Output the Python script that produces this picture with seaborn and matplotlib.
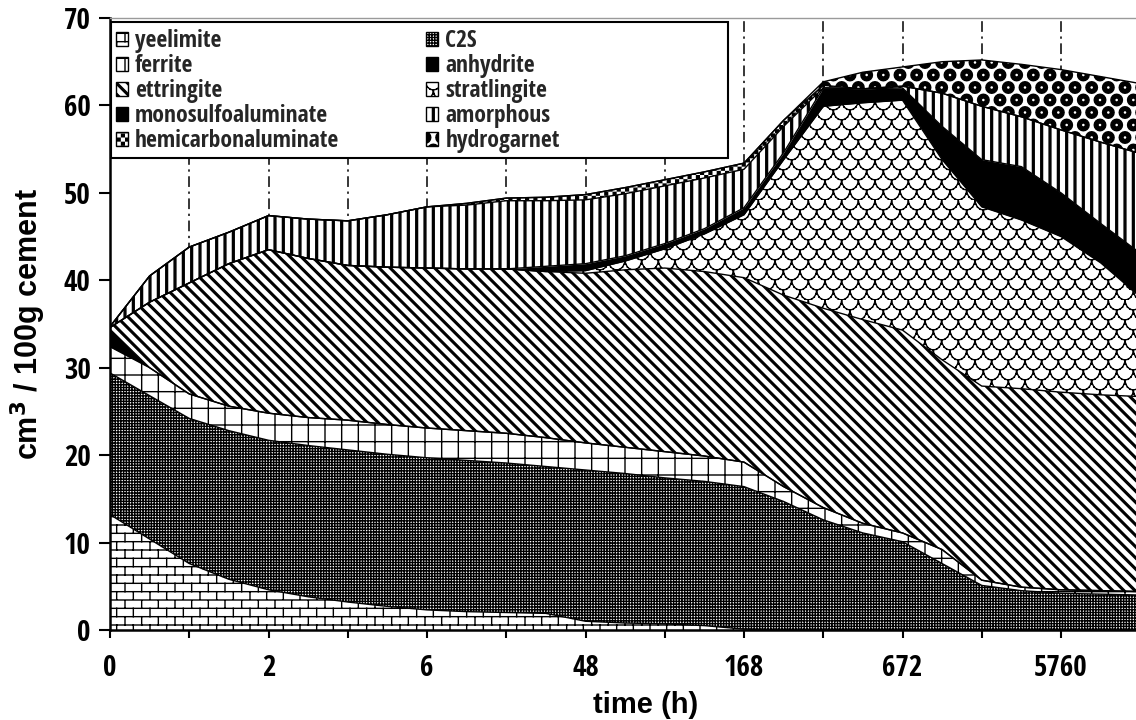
import warnings
warnings.filterwarnings('ignore')
import logging
logging.getLogger('matplotlib.font_manager').setLevel(logging.ERROR)

import numpy as np
import pandas as pd
import matplotlib
matplotlib.use('Agg')
import matplotlib.pyplot as plt
import matplotlib.hatch as mhatch
from matplotlib.path import Path
from matplotlib.patches import Patch, Rectangle
import seaborn as sns

# ---------------- data ----------------
time_labels = ['0', '', '2', '', '6', '', '48', '', '168', '', '672', '', '5760']
sample_pos = [0.0, 0.5, 1.0, 1.5, 2.0, 2.5, 3.0, 3.5, 4.0, 4.5, 5.0, 5.5, 6.0, 6.5,
              7.0, 7.5, 8.0, 8.5, 9.0, 9.5, 10.0, 10.5, 11.0, 11.5, 12.0, 12.5, 13.0]

yeelimite = [13.2, 10.4, 7.6, 5.8, 4.6, 3.8, 3.2, 2.7, 2.3, 2.1, 2.0, 1.9, 1.0, 0.8,
             0.7, 0.5, 0.1, 0, 0, 0, 0, 0, 0, 0, 0, 0, 0]
c2s = [16.2, 16.4, 16.6, 17.0, 17.1, 17.3, 17.4, 17.4, 17.4, 17.3, 17.1, 16.8, 17.3, 17.1,
       16.7, 16.5, 16.3, 14.7, 12.6, 11.1, 10.1, 7.6, 5.1, 4.5, 4.2, 4.1, 4.0]
ferrite = [3.0, 3.2, 2.8, 2.8, 3.1, 3.2, 3.4, 3.4, 3.4, 3.4, 3.4, 3.3, 3.1, 3.0,
           3.0, 2.9, 2.8, 1.7, 1.4, 1.1, 1.0, 1.6, 0.6, 0.4, 0.4, 0.4, 0.4]
anhydrite = [2.0, 0, 0, 0, 0, 0, 0, 0, 0, 0, 0, 0, 0, 0,
             0, 0, 0, 0, 0, 0, 0, 0, 0, 0, 0, 0, 0]
ettringite = [0.2, 7.5, 12.7, 16.3, 18.7, 18.2, 17.7, 18.0, 18.3, 18.5, 18.8, 19.0, 19.4, 20.3,
              21.0, 21.1, 21.1, 21.9, 22.8, 23.3, 23.2, 21.7, 22.2, 22.7, 22.6, 22.4, 22.3]
stratlingite = [0, 0, 0, 0, 0, 0, 0, 0, 0, 0, 0, 0, 0.3, 1.0,
                2.2, 4.3, 7.2, 15.5, 23.1, 24.8, 26.3, 22.9, 20.5, 19.3, 17.8, 15.1, 11.4]
monosulfoaluminate = [0, 0, 0, 0, 0, 0, 0, 0, 0, 0, 0, 0.6, 0.8, 0.6,
                      0.6, 0.6, 0.8, 0.8, 2.1, 1.6, 1.4, 3.8, 5.4, 6.1, 5.0, 4.5, 5.0]
amorphous = [0.1, 3.0, 4.1, 3.6, 3.9, 4.5, 5.1, 6.0, 7.0, 7.3, 7.8, 7.5, 7.3, 7.1,
             6.6, 5.8, 4.4, 3.0, 0, 0, 0.2, 3.8, 6.1, 5.7, 7.2, 9.3, 11.4]
hemicarbonaluminate = [0, 0, 0, 0, 0, 0, 0, 0, 0, 0.2, 0.3, 0.4, 0.6, 0.7,
                       0.7, 0.7, 0.7, 0.7, 0.3, 0, 0, 0, 0, 0, 0, 0, 0]
hydrogarnet = [0, 0, 0, 0, 0, 0, 0, 0, 0, 0, 0, 0, 0, 0,
               0, 0, 0, 0, 0.4, 1.9, 2.2, 3.6, 5.3, 6.0, 6.9, 7.5, 8.0]

phase_names = ['yeelimite', 'C2S', 'ferrite', 'anhydrite', 'ettringite', 'stratlingite',
               'monosulfoaluminate', 'amorphous', 'hemicarbonaluminate', 'hydrogarnet']
phase_values = [yeelimite, c2s, ferrite, anhydrite, ettringite, stratlingite,
                monosulfoaluminate, amorphous, hemicarbonaluminate, hydrogarnet]


# ---------------- custom hatch patterns ----------------
def _segs(segs):
    v = np.asarray(segs, float).reshape(-1, 2)
    c = np.tile(np.array([Path.MOVETO, Path.LINETO], dtype=Path.code_type), len(segs))
    return v, c


def _polys(polys):
    vs, cs = [], []
    for p in polys:
        p = np.asarray(p, float)
        vs.append(np.vstack([p, p[:1]]))
        cs.append(np.array([Path.MOVETO] + [Path.LINETO] * (len(p) - 1) + [Path.CLOSEPOLY],
                           dtype=Path.code_type))
    return np.vstack(vs), np.concatenate(cs)


class _Custom(mhatch.HatchPatternBase):
    key = None

    def __init__(self, hatch, density):
        self.num_vertices = 0
        if hatch and self.key in hatch:
            self._v, self._c = self.build()
            self.num_vertices = len(self._v)

    def set_vertices_and_codes(self, vertices, codes):
        vertices[:] = self._v
        codes[:] = self._c


class Bricks(_Custom):
    key = 'b'

    def build(self):
        n, m = 12, 6
        segs = [((-0.02, i / n), (1.02, i / n)) for i in range(n + 1)]
        for i in range(n):
            off = 0.5 / m if i % 2 else 0.0
            for j in range(-1, m + 2):
                x = j / m + off
                if -0.02 <= x <= 1.02:
                    segs.append(((x, i / n), (x, (i + 1) / n)))
        return _segs(segs)


class Scales(_Custom):
    key = 's'

    def build(self):
        n, m = 10, 6
        th = np.linspace(0, np.pi, 9)
        segs = []
        for i in range(1, n + 1):
            off = 0.5 / m if i % 2 else 0.0
            cy = i / n
            for j in range(-1, m + 2):
                cx = j / m + off
                xs = cx + (0.5 / m) * np.cos(th)
                ys = cy - (1.0 / n) * np.sin(th)
                for k in range(len(th) - 1):
                    segs.append(((xs[k], ys[k]), (xs[k + 1], ys[k + 1])))
        return _segs(segs)


class Diagonals(_Custom):
    key = 'd'

    def build(self):
        n, h = 9, 0.012
        polys = []
        for k in range(-2, 2 * n + 3):
            c = k / n
            t0, t1 = -0.5, 1.5
            polys.append([(t0, c - t0 - h), (t1, c - t1 - h), (t1, c - t1 + h), (t0, c - t0 + h)])
        return _polys(polys)


class VStripes(_Custom):
    key = 'v'

    def build(self):
        n, h = 12, 0.009
        polys = []
        for k in range(0, n + 1):
            x = k / n
            polys.append([(x - h, -0.1), (x + h, -0.1), (x + h, 1.1), (x - h, 1.1)])
        return _polys(polys)


class Checker(_Custom):
    key = 'k'

    def build(self):
        n = 24
        s = 1.0 / n
        e = 0.007
        polys = []
        for i in range(n):
            for j in range(n):
                if (i + j) % 2 == 0:
                    x0, y0 = j * s + e, i * s + e
                    x1, y1 = (j + 1) * s - e, (i + 1) * s - e
                    polys.append([(x0, y0), (x1, y0), (x1, y1), (x0, y1)])
        return _polys(polys)


class Rings(_Custom):
    key = 'c'

    def build(self):
        n, m = 8, 6
        ro, ri = 0.058, 0.02
        th = np.linspace(0, 2 * np.pi, 17)[:-1]
        vs, cs = [], []
        for i in range(n + 1):
            off = 0.5 / m if i % 2 else 0.0
            cy = i / n
            for j in range(-1, m + 2):
                cx = j / m + off
                outer = np.column_stack([cx + ro * np.cos(th), cy + ro * np.sin(th)])
                inner = np.column_stack([cx + ri * np.cos(th[::-1]), cy + ri * np.sin(th[::-1])])
                for ring in (outer, inner):
                    vs.append(np.vstack([ring, ring[:1]]))
                    cs.append(np.array([Path.MOVETO] + [Path.LINETO] * (len(ring) - 1)
                                       + [Path.CLOSEPOLY], dtype=Path.code_type))
        return np.vstack(vs), np.concatenate(cs)


for cls in (Bricks, Scales, Diagonals, VStripes, Checker, Rings):
    mhatch._hatch_types.append(cls)

# style per phase: (facecolor, hatch)
phase_style = {
    'yeelimite': ('white', 'b'),
    'C2S': ('white', '++++++'),
    'ferrite': ('white', '+'),
    'anhydrite': ('black', None),
    'ettringite': ('white', 'd'),
    'stratlingite': ('white', 's'),
    'monosulfoaluminate': ('black', None),
    'amorphous': ('white', 'v'),
    'hemicarbonaluminate': ('white', 'k'),
    'hydrogarnet': ('white', 'c'),
}

# ---------------- plot ----------------
sns.set_theme(style='ticks')
plt.rcParams['hatch.linewidth'] = 1.0
narrow = ['Liberation Sans Narrow', 'Noto Sans Condensed', 'Open Sans Condensed',
          'Liberation Sans', 'DejaVu Sans']
plt.rcParams['font.family'] = ['Liberation Sans', 'DejaVu Sans']

W, H = 1136, 720
fig = plt.figure(figsize=(W / 100, H / 100), dpi=100)
x0_px, x_step = 110, 79.25
ax = fig.add_axes([x0_px / W, 90 / H, (W - x0_px) / W, 612 / H])

x = np.asarray(sample_pos, float)
layers = np.vstack([np.asarray(v, float) for v in phase_values])
tops = np.cumsum(layers, axis=0)
bottoms = np.vstack([np.zeros_like(x), tops[:-1]])

for i in range(1, 13):
    ax.axvline(i, color='black', lw=1.1, ls=(0, (7, 3, 1.5, 3)), zorder=0.5)

for name, lo, hi in zip(phase_names, bottoms, tops):
    fc, hatch = phase_style[name]
    ax.fill_between(x, lo, hi, facecolor=fc, edgecolor='black', hatch=hatch,
                    linewidth=0, zorder=2)

records = []
for name, top in zip(phase_names, tops):
    for xv, yv in zip(x, top):
        records.append((name, xv, yv))
df = pd.DataFrame(records, columns=['phase', 'pos', 'top'])
sns.lineplot(data=df, x='pos', y='top', units='phase', estimator=None, sort=False,
             color='black', linewidth=1.0, legend=False, ax=ax, zorder=3)

ax.set_xlim(0, (W - x0_px) / x_step)
ax.set_ylim(0, 70)
ax.set_xticks(range(len(time_labels)))
ax.set_xticklabels(time_labels)
ax.set_yticks(range(0, 71, 10))
for lab in ax.get_xticklabels() + ax.get_yticklabels():
    lab.set_fontfamily(narrow)
    lab.set_fontstretch('condensed')
    lab.set_fontweight('bold')
    lab.set_fontsize(21)
    lab.set_color('black')
ax.tick_params(axis='x', direction='out', length=6, width=1.5, pad=11, color='black')
ax.tick_params(axis='y', direction='out', length=8, width=1.5, pad=6, color='black')

ax.set_xlabel('time (h)', fontsize=21, fontweight='bold', color='black')
ax.xaxis.set_label_coords((646 - x0_px) / (W - x0_px), -0.100)
ax.set_ylabel(r'cm$^{\mathbf{3}}$ / 100g cement', fontsize=22, fontweight='bold', color='black')
ax.yaxis.set_label_coords(-0.060, 0.5)

for side in ('left', 'bottom'):
    ax.spines[side].set_color('black')
    ax.spines[side].set_linewidth(1.8)
ax.spines['top'].set_color('#9a9a9a')
ax.spines['top'].set_linewidth(1.0)
ax.spines['right'].set_visible(False)
ax.grid(False)

# legend box (layout frame) spanning the reference's legend area
ax.add_patch(Rectangle((111 / W, 1 - 158 / H), 617 / W, 136 / H, transform=fig.transFigure,
                       facecolor='white', edgecolor='black', linewidth=1.5,
                       clip_on=False, zorder=4))

legend_order = ['yeelimite', 'ferrite', 'ettringite', 'monosulfoaluminate', 'hemicarbonaluminate',
                'C2S', 'anhydrite', 'stratlingite', 'amorphous', 'hydrogarnet']
handles = []
for name in legend_order:
    fc, hatch = phase_style[name]
    handles.append(Patch(facecolor=fc, edgecolor='black', hatch=hatch, linewidth=1.0, label=name))
leg = ax.legend(handles=handles, ncol=2, loc='upper left', bbox_to_anchor=(0.0, 0.991),
                frameon=False,
                prop={'family': narrow, 'weight': 'bold', 'size': 17},
                handlelength=0.5, handleheight=0.5, handletextpad=0.3,
                labelspacing=0.04, columnspacing=3.7, borderpad=0.15, borderaxespad=0.1)
leg.set_zorder(5)

fig.savefig('out.png', dpi=100)
